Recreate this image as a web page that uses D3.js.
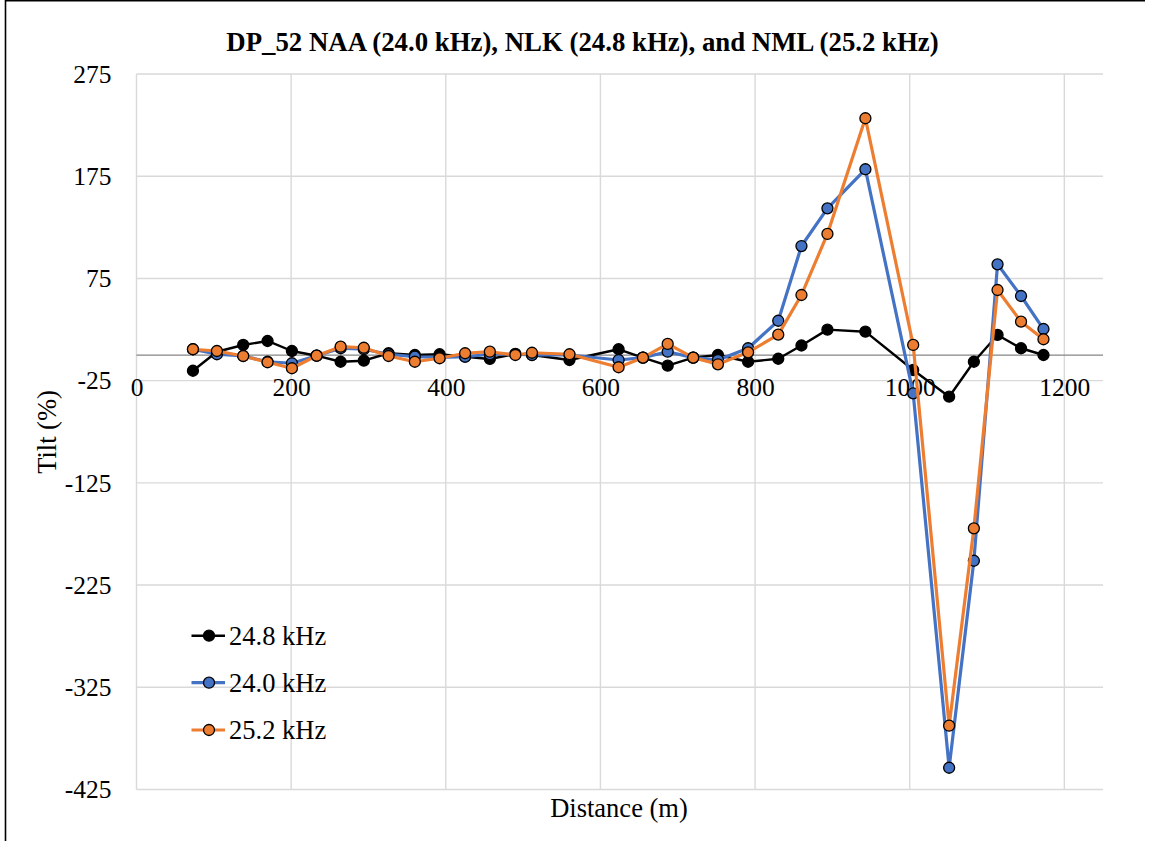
<!DOCTYPE html>
<html>
<head>
<meta charset="utf-8">
<script src="https://cdn.jsdelivr.net/npm/d3@7"></script>
<style>
  html, body { margin: 0; padding: 0; background: #fff; }
  svg { display: block; }
  text { font-family: "Liberation Serif", "Times New Roman", serif; fill: #000; }
</style>
</head>
<body>
<svg id="chart" width="1160" height="841"></svg>
<script>
// Survey stations along the profile (m)
const distance = [73, 104, 138, 169.5, 201, 233, 264, 294, 326, 360, 392, 425, 457, 490, 511.5, 560,
                  623.5, 655, 687, 720, 752, 791, 830, 860, 893.6, 942.7, 1004.5, 1051, 1083, 1113.6, 1144, 1173];

// Tilt (%) per transmitter frequency
const tilt248 = [-15.3, 3.3, 9.9, 13.8, 4.0, -0.6, -6.5, -5.5, 1.8, 0.1, 0.8, -1.6, -3.8, 1.1, 0.1, -4.8,
                 5.7, -2.5, -10.4, -2.5, 0.1, -6.5, -3.6, 9.4, 24.9, 22.9, -14.6, -40.7, -6.5, 19.7, 6.7, 0.1];
const tilt240 = [5.7, 0.8, -0.9, -6.5, -8.0, -0.6, 6.7, 5.7, 0.8, -1.6, -2.2, -1.6, 0.8, 0.8, 0.1, 0.1,
                 -4.8, -2.5, 3.3, -2.5, -4.8, 6.7, 33.6, 106.7, 143.6, 181.8, -37.4, -403.7, -201.2, 88.8, 57.8, 25.5];
const tilt252 = [5.7, 4.0, -0.9, -7.0, -12.9, -0.6, 8.2, 7.2, -0.9, -6.5, -3.1, 1.8, 3.3, 0.1, 2.3, 0.8,
                 -11.9, -2.5, 10.9, -2.5, -9.0, 2.7, 20.0, 58.8, 118.5, 231.7, 9.9, -362.6, -169.5, 63.7, 32.7, 15.5];

const seriesNames = ["24.8 kHz", "24.0 kHz", "25.2 kHz"];
const seriesColors = ["#000000", "#4472C4", "#ED7D31"];

const xTicks = [0, 200, 400, 600, 800, 1000, 1200];
const yTicks = [275, 175, 75, -25, -125, -225, -325, -425];

const titleText = "DP_52 NAA (24.0 kHz), NLK (24.8 kHz), and NML (25.2 kHz)";

const svg = d3.select("#chart");

const plot = { left: 136.5, right: 1103, top: 74, bottom: 789.5 };
const x = d3.scaleLinear().domain([0, 1250]).range([plot.left, plot.right]);
const y = d3.scaleLinear().domain([-425, 275]).range([plot.bottom, plot.top]);

// plain hyphen-minus labels
const fmt = d => String(d);

// outer frame (left and top edges)
svg.append("line").attr("x1", 5.5).attr("x2", 5.5).attr("y1", 0).attr("y2", 841)
  .attr("stroke", "#000").attr("stroke-width", 1.6);
svg.append("line").attr("x1", 5).attr("x2", 1145).attr("y1", 0.8).attr("y2", 0.8)
  .attr("stroke", "#000").attr("stroke-width", 1.6);

// gridlines
const grid = svg.append("g");
grid.selectAll("line.h").data(yTicks).join("line")
  .attr("x1", plot.left).attr("x2", plot.right)
  .attr("y1", d => y(d)).attr("y2", d => y(d))
  .attr("stroke", "#d9d9d9").attr("stroke-width", 1.4);
grid.selectAll("line.v").data(xTicks).join("line")
  .attr("x1", d => x(d)).attr("x2", d => x(d))
  .attr("y1", plot.top).attr("y2", plot.bottom)
  .attr("stroke", "#d9d9d9").attr("stroke-width", 1.4);

// horizontal axis line at zero tilt
svg.append("line").attr("x1", plot.left).attr("x2", plot.right)
  .attr("y1", y(0)).attr("y2", y(0))
  .attr("stroke", "#858585").attr("stroke-width", 1.3);

// y axis labels
const yAxis = svg.append("g").attr("transform", `translate(${plot.left},0)`)
  .call(d3.axisLeft(y).tickValues(yTicks).tickSize(0).tickPadding(25).tickFormat(fmt));
yAxis.select(".domain").remove();
yAxis.selectAll("text").attr("font-size", 25.5).attr("font-family", "Liberation Serif").attr("fill", "#000");

// x axis labels, hung below the zero line
const xAxis = svg.append("g").attr("transform", `translate(0,${y(0)})`)
  .call(d3.axisBottom(x).tickValues(xTicks).tickSize(0).tickFormat(fmt));
xAxis.select(".domain").remove();
xAxis.selectAll("text").attr("font-size", 25.5).attr("font-family", "Liberation Serif")
  .attr("fill", "#000").attr("y", 40.5).attr("dy", 0);

// title
svg.append("text").attr("x", 582.5).attr("y", 51).attr("text-anchor", "middle")
  .attr("font-size", 26.8).attr("font-weight", "bold").text(titleText);

// axis titles
svg.append("text").attr("x", 619).attr("y", 817).attr("text-anchor", "middle")
  .attr("font-size", 26.5).text("Distance (m)");
svg.append("text").attr("transform", "translate(56,432) rotate(-90)").attr("text-anchor", "middle")
  .attr("font-size", 26.5).text("Tilt (%)");

// series
const seriesData = [tilt248, tilt240, tilt252].map((vals, i) => ({
  name: seriesNames[i],
  color: seriesColors[i],
  width: i === 0 ? 2.4 : 3.2,
  points: distance.map((d, j) => ({ d, v: vals[j] }))
}));

const line = d3.line().x(p => x(p.d)).y(p => y(p.v));

const series = svg.append("g").selectAll("g").data(seriesData).join("g");
series.append("path")
  .attr("d", s => line(s.points))
  .attr("fill", "none")
  .attr("stroke", s => s.color)
  .attr("stroke-width", s => s.width)
  .attr("stroke-linejoin", "round");
series.each(function (s) {
  d3.select(this).selectAll("circle").data(s.points).join("circle")
    .attr("cx", p => x(p.d)).attr("cy", p => y(p.v)).attr("r", 5.5)
    .attr("fill", s.color).attr("stroke", "#000").attr("stroke-width", 1.3);
});

// legend
const legendRows = [635.7, 682.7, 730];
const legend = svg.append("g");
seriesData.forEach((s, i) => {
  const ly = legendRows[i];
  legend.append("line").attr("x1", 191.5).attr("x2", 225).attr("y1", ly).attr("y2", ly)
    .attr("stroke", s.color).attr("stroke-width", s.width);
  legend.append("circle").attr("cx", 209).attr("cy", ly).attr("r", 5.5)
    .attr("fill", s.color).attr("stroke", "#000").attr("stroke-width", 1.3);
  legend.append("text").attr("x", 229).attr("y", ly).attr("dy", "0.34em")
    .attr("font-size", 26.5).text(s.name);
});
</script>
</body>
</html>
